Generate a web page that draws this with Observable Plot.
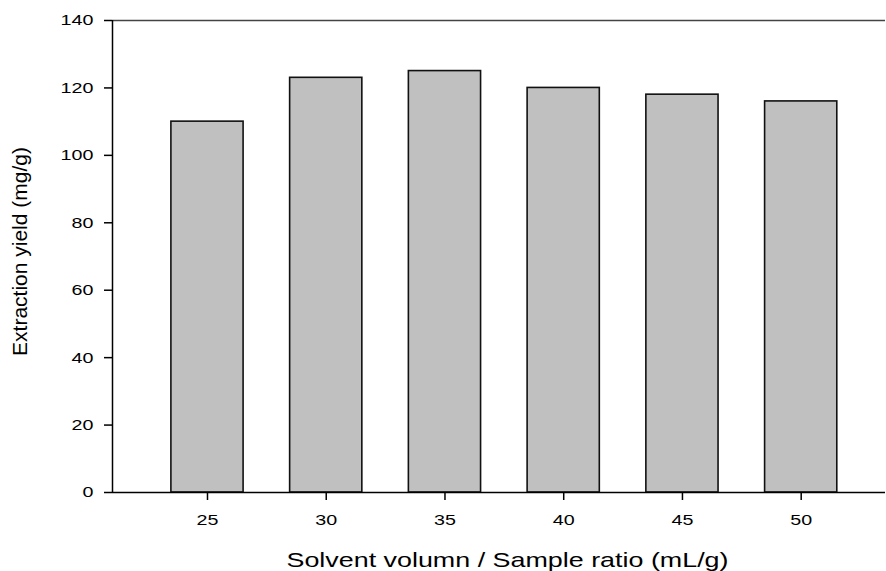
<!DOCTYPE html>
<html><head><meta charset="utf-8">
<script src="https://cdn.jsdelivr.net/npm/d3@7"></script>
<script src="https://cdn.jsdelivr.net/npm/@observablehq/plot@0.6"></script>
<style>body{margin:0;background:#fff;} #chart svg{display:block;}</style>
</head><body><div id="chart"></div>
<script>
const ratios = [25, 30, 35, 40, 45, 50];
const yields = [110, 123, 125, 120, 118, 116];
const xTicks = [25, 30, 35, 40, 45, 50];
const yTicks = [0, 20, 40, 60, 80, 100, 120, 140];
const xLabel = "Solvent volumn / Sample ratio (mL/g)";
const yLabel = "Extraction yield (mg/g)";
const barHalfWidth = 1.52;

const data = ratios.map((r, i) => ({ratio: r, yield: yields[i]}));
const font = "'Liberation Sans', Arial, Helvetica, sans-serif";

const plot = Plot.plot({
  width: 886, height: 571,
  marginLeft: 112, marginRight: 1, marginTop: 20, marginBottom: 79,
  style: {fontFamily: font, background: "#fff", color: "#000"},
  x: {domain: [21, 53.55]},
  y: {domain: [0, 140]},
  marks: [
    Plot.rectY(data, {x1: d => d.ratio - barHalfWidth, x2: d => d.ratio + barHalfWidth, y: "yield", fill: "#c0c0c0", stroke: "#111", strokeWidth: 1.6}),
    Plot.ruleY([140], {stroke: "#444", strokeWidth: 1.5}),
    Plot.ruleY([0], {stroke: "#000", strokeWidth: 1.5}),
    Plot.ruleX([21], {stroke: "#000", strokeWidth: 1.5}),
    Plot.axisX({ticks: xTicks, tickSize: 8, tickPadding: 14, fontSize: 15.4, label: null, strokeWidth: 1.5, tickFormat: d => String(d)}),
    Plot.axisY({ticks: yTicks, tickSize: 8, tickPadding: 11, fontSize: 15.4, label: null, strokeWidth: 1.5, tickFormat: d => String(d)}),
    Plot.text([xLabel], {frameAnchor: "bottom", textAnchor: "middle", lineAnchor: "middle", dx: 8.5, dy: 67.3, fontSize: 21, fill: "#000"}),
    Plot.text([yLabel], {frameAnchor: "left", textAnchor: "middle", lineAnchor: "middle", rotate: -90, dx: -92, dy: -5, fontSize: 21, fill: "#000"})
  ]
});
document.getElementById("chart").appendChild(plot);

// the reference's horizontal text is stretched horizontally
function stretch(el, sx) {
  const x = parseFloat(el.getAttribute("x")) || 0;
  const t = el.getAttribute("transform") || "";
  el.removeAttribute("x");
  el.setAttribute("transform", `${t} translate(${x},0) scale(${sx},1)`);
}
plot.querySelectorAll('g[aria-label="x-axis tick label"] text, g[aria-label="y-axis tick label"] text').forEach(el => stretch(el, 1.28));
plot.querySelectorAll("text").forEach(el => { if (el.textContent === xLabel) stretch(el, 1.28); });
</script>
</body></html>
